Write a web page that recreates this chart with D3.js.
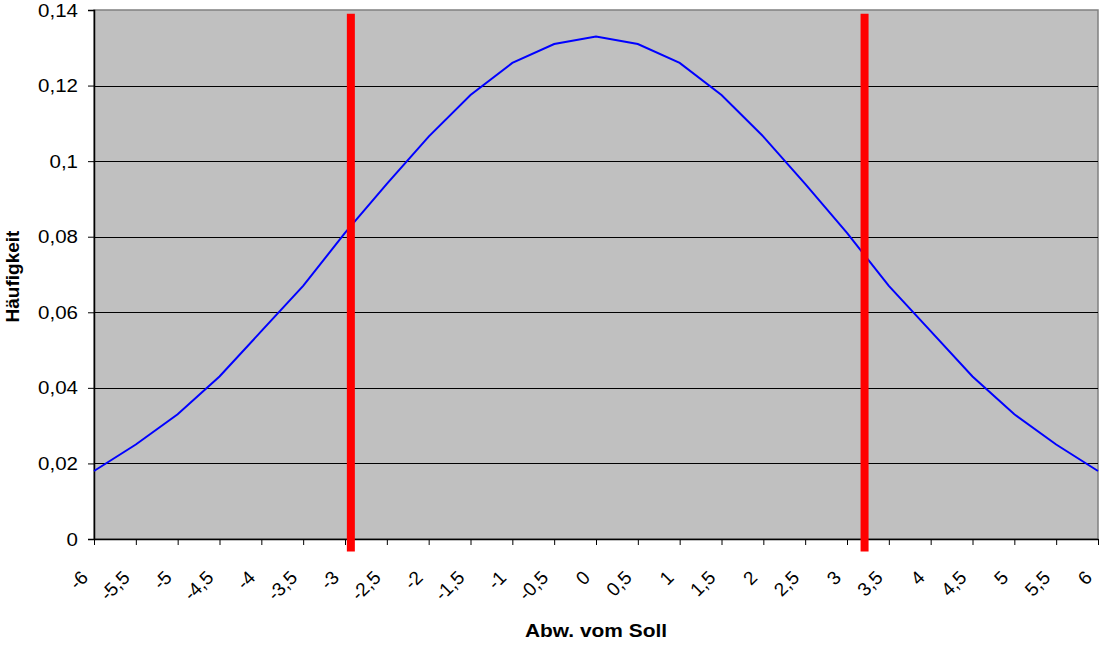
<!DOCTYPE html>
<html>
<head>
<meta charset="utf-8">
<script src="https://cdn.jsdelivr.net/npm/d3@7"></script>
<style>
  body { margin: 0; background: #fff; }
  svg { display: block; font-family: "Liberation Sans", Arial, sans-serif; }
</style>
</head>
<body>
<svg id="chart" width="1101" height="646"></svg>
<script>
// ---- data ----
const categories = ["-6","-5,5","-5","-4,5","-4","-3,5","-3","-2,5","-2","-1,5","-1","-0,5","0",
                    "0,5","1","1,5","2","2,5","3","3,5","4","4,5","5","5,5","6"];
const frequency = [0.018,0.025,0.033,0.043,0.055,0.067,0.081,0.094,0.1065,0.1175,0.126,0.131,0.133,
                   0.131,0.126,0.1175,0.1065,0.094,0.081,0.067,0.055,0.043,0.033,0.025,0.018];
const yTicks = [0,0.02,0.04,0.06,0.08,0.1,0.12,0.14];
const yTickLabels = ["0","0,02","0,04","0,06","0,08","0,1","0,12","0,14"];
const limitPositions = [-2.93, 3.21];     // in axis units (deviation)
const limitTop = 0.139, limitBottom = -0.0033;
const xTitle = "Abw. vom Soll", yTitle = "Häufigkeit";

// ---- layout ----
const svg = d3.select("#chart");
const m = {left: 94, right: 1098, top: 10, bottom: 539};
const FONT = "Liberation Sans, Arial, sans-serif";

const x = d3.scalePoint().domain(categories).range([m.left, m.right]);
const xNum = d3.scaleLinear().domain([-6, 6]).range([m.left, m.right]);
const y = d3.scaleLinear().domain([0, 0.14]).range([m.bottom, m.top]);

// plot background
svg.append("rect").attr("x", m.left).attr("y", m.top)
  .attr("width", m.right - m.left).attr("height", m.bottom - m.top)
  .attr("fill", "#c0c0c0").attr("stroke", "#808080").attr("stroke-width", 1.5);

// gridlines
svg.append("g").selectAll("line").data(yTicks.slice(1, -1)).join("line")
  .attr("x1", m.left).attr("x2", m.right)
  .attr("y1", d => Math.round(y(d)) + 0.5).attr("y2", d => Math.round(y(d)) + 0.5)
  .attr("stroke", "#000").attr("stroke-width", 1);

// y axis
const yAxis = d3.axisLeft(y).tickValues(yTicks)
  .tickFormat((d, i) => yTickLabels[i]).tickSize(6).tickPadding(10);
const gy = svg.append("g").attr("transform", `translate(${m.left},0)`).call(yAxis);
gy.select(".domain").attr("stroke", "#000").attr("stroke-width", 1.5);
gy.selectAll(".tick line").attr("stroke", "#000");
gy.selectAll(".tick text").attr("font-size", 19).attr("fill", "#000")
  .attr("font-family", FONT)
  .attr("x", 0).attr("transform", "translate(-16,0) scale(1.08,1)");

// x axis
const xAxis = d3.axisBottom(x).tickSize(6).tickSizeOuter(0);
const gx = svg.append("g").attr("transform", `translate(0,${m.bottom})`).call(xAxis);
gx.select(".domain").attr("stroke", "#000").attr("stroke-width", 1.5);
gx.selectAll(".tick line").attr("stroke", "#000");
gx.selectAll(".tick text")
  .attr("font-size", 19).attr("fill", "#000")
  .attr("font-family", FONT)
  .attr("text-anchor", "end")
  .attr("y", 0).attr("dy", "0.35em")
  .attr("transform", "translate(-10,35) rotate(-45)");

// curve
svg.append("path").datum(frequency)
  .attr("d", d3.line().x((d, i) => x(categories[i])).y(d => y(d)))
  .attr("fill", "none").attr("stroke", "#0000ff").attr("stroke-width", 2);

// limit lines
svg.append("g").selectAll("line").data(limitPositions).join("line")
  .attr("x1", d => xNum(d)).attr("x2", d => xNum(d))
  .attr("y1", y(limitTop)).attr("y2", y(limitBottom))
  .attr("stroke", "#ff0000").attr("stroke-width", 8);

// titles
svg.append("text")
  .attr("transform", `translate(${(m.left + m.right) / 2},637) scale(1.1,1)`)
  .attr("text-anchor", "middle").attr("font-weight", "bold").attr("font-size", 19)
  .attr("font-family", FONT)
  .text(xTitle);
svg.append("text").attr("transform", `translate(19,${(m.top + m.bottom) / 2 + 2}) rotate(-90)`)
  .attr("text-anchor", "middle").attr("font-weight", "bold").attr("font-size", 19)
  .attr("font-family", FONT)
  .text(yTitle);
</script>
</body>
</html>
